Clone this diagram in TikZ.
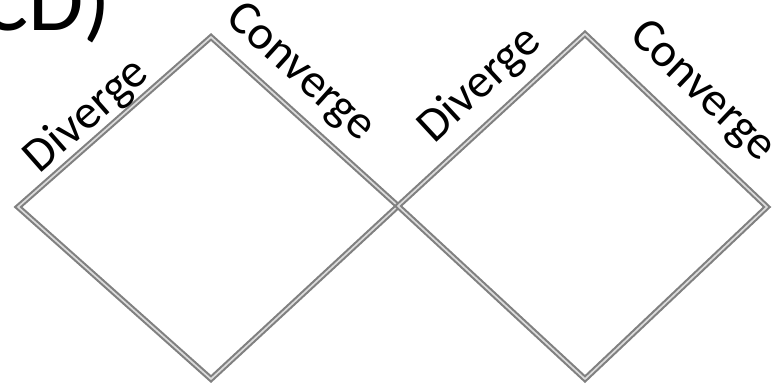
\documentclass[tikz,border=0pt]{standalone}
\usepackage{fontspec}
\setmainfont{Carlito}
\begin{document}
\begin{tikzpicture}[x=1pt,y=-1pt,
  edge/.style={draw=black!50, line width=2.1pt, double=black!14, double distance=1.7pt, line join=miter},
  lbl/.style={font=\fontsize{48}{48}\selectfont, inner sep=0pt}]
\useasboundingbox (0,0) rectangle (774,383);
\clip (0,0) rectangle (774,383);
\fill[white] (0,0) rectangle (774,383);
\coordinate (T1) at (211,37);
\coordinate (L1) at (18,207);
\coordinate (B1) at (211,379);
\coordinate (M) at (398,206);
\coordinate (T2) at (585,34);
\coordinate (R2) at (767,207);
\coordinate (B2) at (585,379);
\draw[edge] (T1) -- (M) -- (B1) -- (L1) -- cycle;
\draw[edge] (T2) -- (R2) -- (B2) -- (M) -- cycle;
\node[font=\fontsize{90}{90}\selectfont, anchor=base west, inner sep=0pt] (title) at (-20,30) {CD)};
\node[lbl, rotate=41.4] (d1) at (87,116) {Diverge};
\node[lbl, rotate=-42.1] (c1) at (300,73) {Converge};
\node[lbl, rotate=42.8] (d2) at (480,85) {Diverge};
\node[lbl, rotate=-43.7] (c2) at (702,92) {Converge};
\end{tikzpicture}
\end{document}
